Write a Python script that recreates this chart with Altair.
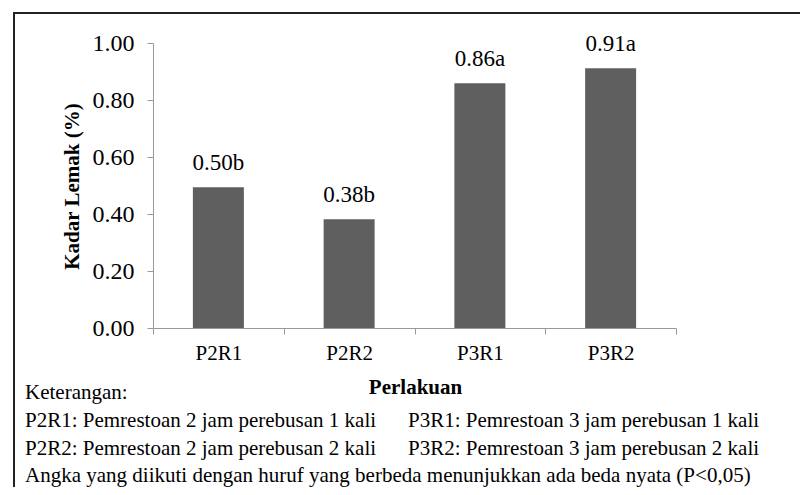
import altair as alt
import pandas as pd

categories = ["P2R1", "P2R2", "P3R1", "P3R2"]
values = [0.494, 0.382, 0.859, 0.911]
labels = ["0.50b", "0.38b", "0.86a", "0.91a"]
y_ticks = [0.0, 0.2, 0.4, 0.6, 0.8, 1.0]
y_title = "Kadar Lemak (%)"
x_title = "Perlakuan"
note_head = "Keterangan:"
notes_left = ["P2R1: Pemrestoan 2 jam perebusan 1 kali",
              "P2R2: Pemrestoan 2 jam perebusan 2 kali"]
notes_right = ["P3R1: Pemrestoan 3 jam perebusan 1 kali",
               "P3R2: Pemrestoan 3 jam perebusan 2 kali"]
note_foot = "Angka yang diikuti dengan huruf yang berbeda menunjukkan ada beda nyata (P<0,05)"

df = pd.DataFrame({"cat": categories, "val": values, "lab": labels})

W, H = 523, 285
FONT = "'Liberation Serif', 'Times New Roman', Times, serif"
AX = "#989898"

x_enc = alt.X(
    "cat:N", sort=categories,
    scale=alt.Scale(paddingInner=0, paddingOuter=0),
    axis=alt.Axis(
        title=x_title, labelAngle=0, tickBand="extent", tickSize=6,
        tickColor=AX, domainColor=AX, labelFont=FONT, labelFontSize=21,
        labelColor="black", labelPadding=8, titleFont=FONT, titleFontSize=21,
        titleFontWeight="bold", titleColor="black", titleX=262, titleY=65,
        titleBaseline="alphabetic", titleAlign="center",
    ),
)
y_enc = alt.Y(
    "val:Q",
    scale=alt.Scale(domain=[0, 1], nice=False),
    axis=alt.Axis(
        values=y_ticks, format=".2f", grid=False, tickSize=6, tickColor=AX,
        domainColor=AX, labelFont=FONT, labelFontSize=24, labelColor="black",
        labelPadding=13, title=y_title, titleFont=FONT, titleFontSize=21,
        titleFontWeight="bold", titleColor="black", titleX=-75, titleY=143,
        titleAngle=270, titleBaseline="alphabetic", titleAlign="center",
    ),
)

base = alt.Chart(df)
bars = base.mark_bar(color="#5f5f5f", width=alt.RelativeBandSize(0.39)).encode(x=x_enc, y=y_enc)
vals = base.mark_text(dy=-17, baseline="alphabetic", font=FONT, fontSize=23, color="black").encode(
    x=alt.X("cat:N", sort=categories), y=alt.Y("val:Q"), text="lab:N"
)

one = alt.Data(values=[{"a": 1}])


def note(txt, px, py):
    return alt.Chart(one).mark_text(
        text=txt, align="left", baseline="alphabetic", font=FONT, fontSize=21, color="black"
    ).encode(x=alt.value(px), y=alt.value(py))


OX, OY = 153, 43  # plot origin in page pixels
notes = [note(note_head, 25 - OX, 399 - OY)]
for i, t in enumerate(notes_left):
    notes.append(note(t, 25 - OX, 427 - OY + 28 * i))
for i, t in enumerate(notes_right):
    notes.append(note(t, 408 - OX, 427 - OY + 28 * i))
notes.append(note(note_foot, 25 - OX, 482 - OY))

border_top = alt.Chart(one).mark_rule(color="#222222", strokeWidth=2).encode(
    x=alt.value(14 - OX), x2=alt.value(820 - OX), y=alt.value(13 - OY)
)
border_left = alt.Chart(one).mark_rule(color="#222222", strokeWidth=2).encode(
    x=alt.value(14 - OX), y=alt.value(12 - OY), y2=alt.value(500 - OY)
)

chart = alt.layer(bars, vals, border_top, border_left, *notes).properties(
    width=W, height=H,
    padding={"left": 145, "top": 35, "right": 124, "bottom": 159},
    autosize="none",
).configure_view(stroke=None)

chart.save("out.html", embed_options={"renderer": "svg", "actions": False})
